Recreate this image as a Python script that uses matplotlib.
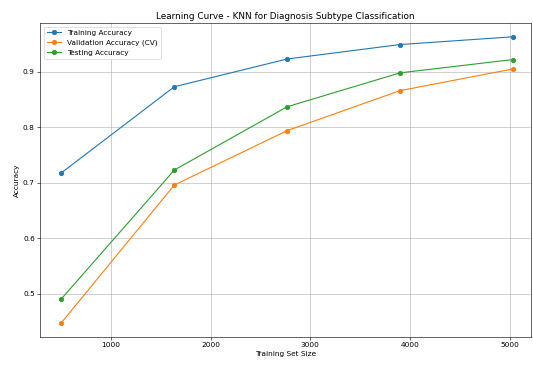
import numpy as np
import matplotlib.pyplot as plt

# learning curve results (train sizes and mean scores)
train_sizes = [503, 1636, 2768, 3900, 5033]
train_acc = [0.718, 0.873, 0.923, 0.949, 0.963]
val_acc = [0.448, 0.696, 0.794, 0.866, 0.905]
test_acc = [0.491, 0.723, 0.837, 0.898, 0.922]

fig = plt.figure(figsize=(10, 6.85), dpi=53.3)
plt.plot(train_sizes, train_acc, 'o-', label='Training Accuracy')
plt.plot(train_sizes, val_acc, 'o-', label='Validation Accuracy (CV)')
plt.plot(train_sizes, test_acc, 'o-', label='Testing Accuracy')
plt.title('Learning Curve - KNN for Diagnosis Subtype Classification')
plt.xlabel('Training Set Size')
plt.ylabel('Accuracy')
plt.legend(loc='upper left')
plt.grid(True)
plt.xlim(288, 5213)
plt.ylim(0.4225, 0.988)
plt.subplots_adjust(left=0.075, right=0.996, top=0.937, bottom=0.077)
plt.savefig('out.png', dpi=53.3)
